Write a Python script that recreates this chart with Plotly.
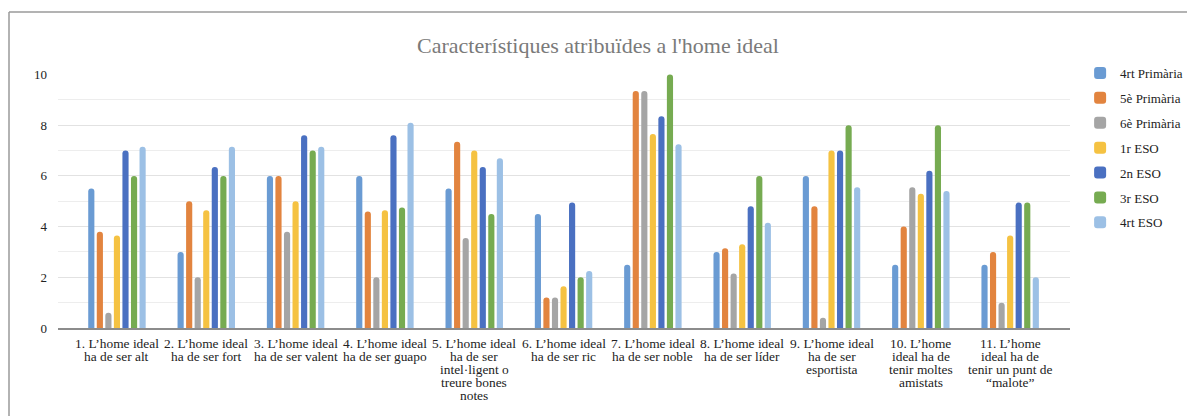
import plotly.graph_objects as go

categories = [
    "1. L’home ideal<br>ha de ser alt",
    "2. L’home ideal<br>ha de ser fort",
    "3. L’home ideal<br>ha de ser valent",
    "4. L’home ideal<br>ha de ser guapo",
    "5. L’home ideal<br>ha de ser<br>intel·ligent o<br>treure bones<br>notes",
    "6. L’home ideal<br>ha de ser ric",
    "7. L’home ideal<br>ha de ser noble",
    "8. L’home ideal<br>ha de ser líder",
    "9. L’home ideal<br>ha de ser<br>esportista",
    "10. L’home<br>ideal ha de<br>tenir moltes<br>amistats",
    "11. L’home<br>ideal ha de<br>tenir un punt de<br>“malote”",
]

series_names = ["4rt Primària", "5è Primària", "6è Primària", "1r ESO", "2n ESO", "3r ESO", "4rt ESO"]

prim4 = [5.5, 3.0, 6.0, 6.0, 5.5, 4.5, 2.5, 3.0, 6.0, 2.5, 2.5]
prim5 = [3.8, 5.0, 6.0, 4.6, 7.35, 1.2, 9.35, 3.15, 4.8, 4.0, 3.0]
prim6 = [0.6, 2.0, 3.8, 2.0, 3.55, 1.2, 9.35, 2.15, 0.4, 5.55, 1.0]
eso1 = [3.65, 4.65, 5.0, 4.65, 7.0, 1.65, 7.65, 3.3, 7.0, 5.3, 3.65]
eso2 = [7.0, 6.35, 7.6, 7.6, 6.35, 4.95, 8.35, 4.8, 7.0, 6.2, 4.95]
eso3 = [6.0, 6.0, 7.0, 4.75, 4.5, 2.0, 10.0, 6.0, 8.0, 8.0, 4.95]
eso4 = [7.15, 7.15, 7.15, 8.1, 6.7, 2.25, 7.25, 4.15, 5.55, 5.4, 2.0]

colors = ["#6A9BD3", "#E2843F", "#A5A5A5", "#F5C242", "#4A70C1", "#76AB51", "#9CC0E5"]

all_series = [prim4, prim5, prim6, eso1, eso2, eso3, eso4]

fig = go.Figure()
for name, vals, col in zip(series_names, all_series, colors):
    fig.add_trace(go.Bar(
        x=categories, y=vals, name=name, legendgroup=name,
        marker=dict(color=col, line=dict(width=0)),
    ))

FONT = "Liberation Serif, Times New Roman, serif"

# the page body adds an 8px margin, so the figure is 8px smaller in each direction
W, H = 1187, 408
ML, MR, MT, MB = 50, 125, 66, 88
PW = W - ML - MR
PH = H - MT - MB

fig.update_layout(
    width=W, height=H,
    margin=dict(l=ML, r=MR, t=MT, b=MB, autoexpand=False),
    paper_bgcolor="white", plot_bgcolor="white",
    barmode="group", bargap=0.33, bargroupgap=0.28,
    barcornerradius=3,
    font=dict(family=FONT, size=13, color="#222"),
    title=dict(text="Característiques atribuïdes a l'home ideal",
               x=(598 - 8) / W, xref="container", xanchor="center",
               y=1 - 37 / H, yref="container", yanchor="middle",
               font=dict(family=FONT, size=22, color="#7a7a7a")),
    legend=dict(x=1.010, xanchor="left", y=1 + 16 / PH, yanchor="top",
                font=dict(family=FONT, size=13, color="#222"),
                tracegroupgap=5, itemclick=False),
    showlegend=True,
)

fig.update_xaxes(
    range=[-0.66, 10.67], automargin=False,
    showgrid=False, showline=True, linecolor="#8c8c8c", linewidth=2,
    ticks="", showticklabels=False,
    fixedrange=True,
)
fig.update_yaxes(
    range=[0, 10.02], dtick=2, tick0=0, automargin=False,
    showgrid=True, gridcolor="#e2e2e2", gridwidth=1,
    minor=dict(dtick=1, showgrid=True, gridcolor="#ededed", gridwidth=1),
    zeroline=False, showline=False, ticks="",
    tickfont=dict(family=FONT, size=13, color="#222"), ticklabelstandoff=10,
    fixedrange=True,
)

# category labels: one annotation per line for the tight line spacing of the original
for cat in categories:
    for i, line in enumerate(cat.split("<br>")):
        fig.add_annotation(
            x=cat, xref="x", y=0, yref="paper", text=line, showarrow=False,
            xanchor="center", yanchor="middle", yshift=-(15 + i * 13.0),
            font=dict(family=FONT, size=13.4, color="#222"),
        )

# outer frame (cropped card border), along the top and left edges
top = (PH + MT - 4) / PH
left = -(ML - 1) / PW
fig.add_shape(type="line", xref="paper", yref="paper",
              x0=left, x1=1.3, y0=top, y1=top,
              line=dict(color="#9a9a9a", width=1.5))
fig.add_shape(type="line", xref="paper", yref="paper",
              x0=left, x1=left, y0=-0.5, y1=top,
              line=dict(color="#9a9a9a", width=1.5))

fig.write_html("out.html")
